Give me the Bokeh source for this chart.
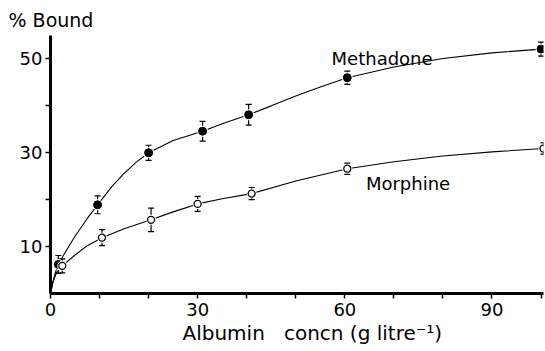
from bokeh.plotting import figure
from bokeh.models import Range1d, FixedTicker, Whisker, ColumnDataSource, Label, TeeHead, Title
from bokeh.embed import file_html
from bokeh.resources import INLINE

# Data
meth_x = [1.6, 9.6, 20, 31, 40.4, 60.5, 100]
meth_y = [6.2, 18.9, 30.0, 34.6, 38.1, 46.0, 52.1]
meth_err = [1.9, 1.9, 1.6, 2.1, 2.2, 1.4, 1.5]

morph_x = [2.4, 10.5, 20.5, 30, 41, 60.5, 100.5]
morph_y = [5.9, 11.9, 15.7, 19.1, 21.3, 26.6, 30.9]
morph_err = [1.5, 1.7, 2.5, 1.6, 1.3, 1.2, 1.2]

# fitted curves
meth_curve_x = [0, 0.5, 1.0, 1.6, 3, 5, 7.5, 9.6, 12.5, 15, 17.5, 20, 25, 31, 35, 40.4, 45, 50, 55, 60.5, 70, 80, 90, 100]
meth_curve_y = [0, 2.5, 4.5, 6.2, 8.8, 12.2, 16.0, 18.9, 22.8, 25.6, 28.0, 30.0, 32.6, 34.6, 36.2, 38.1, 40.0, 42.1, 44.0, 46.0, 48.3, 50.1, 51.3, 52.1]
morph_curve_x = [0, 0.5, 1.2, 2.4, 5, 7.5, 10.5, 15, 20.5, 25, 30, 35, 41, 50, 60.5, 70, 80, 90, 100.5]
morph_curve_y = [0, 2.4, 4.4, 5.9, 8.2, 10.2, 11.9, 13.8, 15.7, 17.4, 19.1, 20.2, 21.3, 24.0, 26.6, 28.1, 29.3, 30.2, 30.9]

y_ticks = [10, 20, 30, 40, 50]
y_labels = {10: "10", 20: "", 30: "30", 40: "", 50: "50"}
x_ticks = [0, 10, 20, 30, 40, 50, 60, 70, 80, 90, 100]
x_labels = {0: "0", 10: "", 20: "", 30: "30", 40: "", 50: "", 60: "60", 70: "", 80: "", 90: "90", 100: ""}

FONT = "DejaVu Sans"

p = figure(width=545, height=351, x_range=Range1d(0, 100.5), y_range=Range1d(0, 55),
           output_backend="svg", toolbar_location=None,
           min_border_left=50, min_border_right=2, min_border_top=35, min_border_bottom=58)
p.outline_line_color = None
p.xgrid.visible = False
p.ygrid.visible = False
p.background_fill_color = "white"
p.border_fill_color = "white"

for ax in (p.xaxis[0], p.yaxis[0]):
    ax.axis_line_width = 3
    ax.axis_line_color = "black"
    ax.major_tick_line_color = "black"
    ax.major_tick_line_width = 1.5
    ax.major_tick_out = 5
    ax.major_tick_in = 0
    ax.minor_tick_line_color = None
    ax.major_label_text_font = FONT
    ax.major_label_text_font_size = "18px"
    ax.major_label_text_color = "black"

p.yaxis.ticker = FixedTicker(ticks=y_ticks)
p.yaxis.major_label_overrides = y_labels
p.yaxis.major_label_standoff = 3
p.xaxis.ticker = FixedTicker(ticks=x_ticks)
p.xaxis.major_label_standoff = 4
p.xaxis.major_label_overrides = x_labels

# curves
p.line(meth_curve_x, meth_curve_y, line_color="black", line_width=1.1)
p.line(morph_curve_x, morph_curve_y, line_color="black", line_width=1.1)

# error bars
for xs, ys, es in ((meth_x, meth_y, meth_err), (morph_x, morph_y, morph_err)):
    src = ColumnDataSource(dict(x=xs, upper=[y + e for y, e in zip(ys, es)],
                                lower=[y - e for y, e in zip(ys, es)]))
    w = Whisker(base="x", upper="upper", lower="lower", source=src,
                line_color="black", line_width=1.2,
                upper_head=TeeHead(size=6, line_color="black", line_width=1.2),
                lower_head=TeeHead(size=6, line_color="black", line_width=1.2))
    p.add_layout(w)

# markers (white halo then marker)
p.scatter(meth_x, meth_y, size=11, fill_color="white", line_color=None)
p.scatter(meth_x, meth_y, size=8, fill_color="black", line_color="black")
p.scatter(morph_x, morph_y, size=10, fill_color="white", line_color=None)
p.scatter(morph_x, morph_y, size=7, fill_color="white", line_color="black", line_width=1.3)

p.add_layout(Label(x=57.3, y=50.0, text="Methadone", text_font=FONT, text_font_size="18px",
                   text_baseline="middle", text_align="left", text_color="black"))
p.add_layout(Label(x=64.3, y=23.4, text="Morphine", text_font=FONT, text_font_size="18px",
                   text_baseline="middle", text_align="left", text_color="black"))

top_title = Title(text="% Bound", align="left", offset=-42, text_font=FONT,
                  text_font_size="19px", text_font_style="normal", text_color="black")
p.add_layout(top_title, "above")
bottom_title = Title(text="Albumin\u00a0\u00a0\u00a0concn (g litre\u207b\u00b9)", align="left", offset=132,
                     text_font=FONT, text_font_size="20px", text_font_style="normal",
                     text_color="black", standoff=0)
p.add_layout(bottom_title, "below")

open("out.html", "w").write(file_html(p, INLINE))
